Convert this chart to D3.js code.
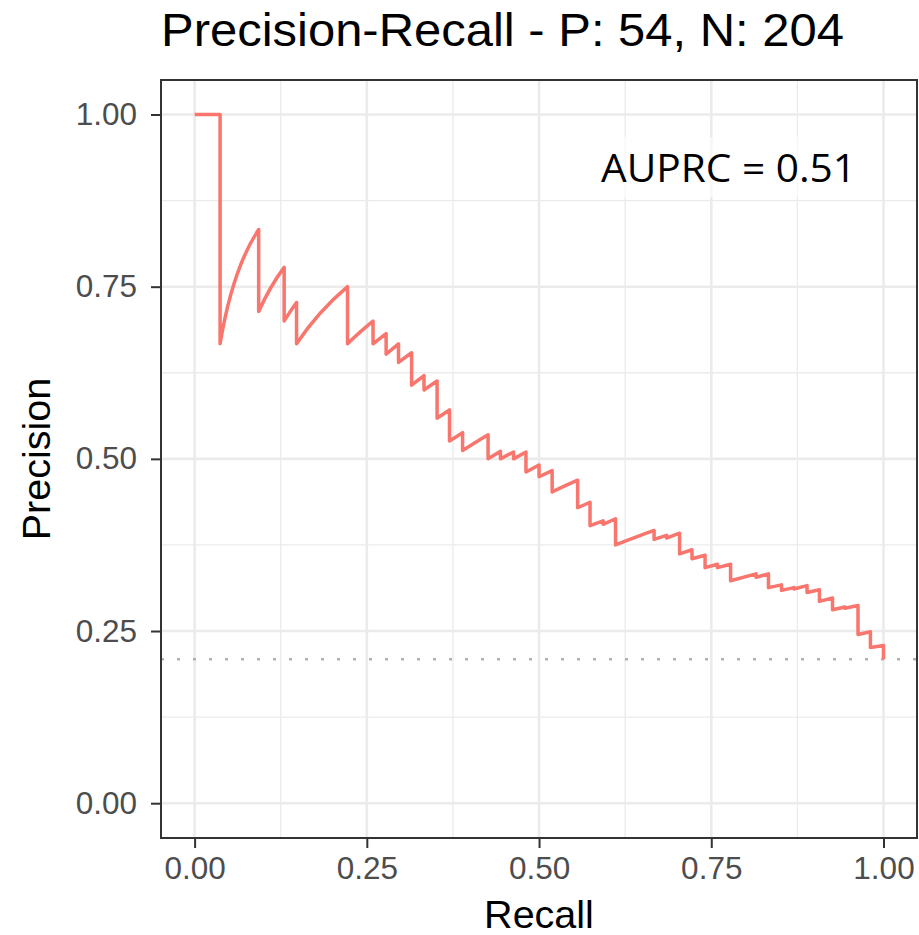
<!DOCTYPE html>
<html><head><meta charset="utf-8">
<script src="https://cdn.jsdelivr.net/npm/d3@7"></script>
<style>body{margin:0;background:#fff}</style>
</head><body>
<svg id="chart" width="919" height="935"></svg>
<script>
// ---- data ----
const recall = [0, 0.037, 0.037, 0.093, 0.093, 0.130, 0.130, 0.148, 0.148, 0.222,
  0.222, 0.259, 0.259, 0.278, 0.278, 0.296, 0.296, 0.315, 0.315, 0.333,
  0.333, 0.352, 0.352, 0.370, 0.370, 0.389, 0.389, 0.426, 0.426, 0.444,
  0.444, 0.463, 0.463, 0.481, 0.481, 0.500, 0.500, 0.519, 0.519, 0.556,
  0.556, 0.574, 0.574, 0.593, 0.593, 0.611, 0.611, 0.667, 0.667, 0.685,
  0.685, 0.704, 0.704, 0.722, 0.722, 0.741, 0.741, 0.759, 0.759, 0.778,
  0.778, 0.815, 0.815, 0.833, 0.833, 0.852, 0.852, 0.870, 0.870, 0.889,
  0.889, 0.907, 0.907, 0.926, 0.926, 0.944, 0.944, 0.963, 0.963, 0.981,
  0.981, 1.000, 1.000];
const precision = [1.000, 1.000, 0.667, 0.833, 0.714, 0.778, 0.700, 0.727, 0.667, 0.750,
  0.667, 0.700, 0.667, 0.682, 0.652, 0.667, 0.640, 0.654, 0.607, 0.621,
  0.600, 0.613, 0.559, 0.571, 0.526, 0.538, 0.512, 0.535, 0.500, 0.511,
  0.500, 0.510, 0.500, 0.510, 0.481, 0.491, 0.474, 0.483, 0.452, 0.469,
  0.429, 0.437, 0.403, 0.410, 0.405, 0.413, 0.375, 0.396, 0.383, 0.389,
  0.385, 0.392, 0.362, 0.368, 0.355, 0.360, 0.342, 0.347, 0.342, 0.347,
  0.323, 0.333, 0.328, 0.333, 0.313, 0.317, 0.309, 0.313, 0.311, 0.316,
  0.306, 0.310, 0.293, 0.298, 0.281, 0.285, 0.283, 0.287, 0.245, 0.249,
  0.226, 0.229, 0.209];
const baselineValue = [0.209];
const majorBreaks = [0, 0.25, 0.5, 0.75, 1];
const minorBreaks = [0.125, 0.375, 0.625, 0.875];
const tickLabels = ["0.00", "0.25", "0.50", "0.75", "1.00"];
const titleText = "Precision-Recall - P: 54, N: 204";
const xTitle = "Recall";
const yTitle = "Precision";
const annotationText = "AUPRC = 0.51";

// ---- layout ----
const panel = {left: 161, right: 917, top: 80, bottom: 838};
const x = d3.scaleLinear().domain([0, 1]).range([194.6, 883.5]);
const y = d3.scaleLinear().domain([0, 1]).range([803.2, 114.5]);
const svg = d3.select("#chart");
const sans = "'Liberation Sans', Arial, Helvetica, sans-serif";

// panel background
svg.append("rect").attr("x", panel.left).attr("y", panel.top)
  .attr("width", panel.right - panel.left).attr("height", panel.bottom - panel.top)
  .attr("fill", "#fff");

const grid = svg.append("g");
// minor grid
grid.selectAll(".vminor").data(minorBreaks).join("line").attr("class", "vminor")
  .attr("x1", d => x(d)).attr("x2", d => x(d)).attr("y1", panel.top).attr("y2", panel.bottom)
  .attr("stroke", "#ebebeb").attr("stroke-width", 1.3);
grid.selectAll(".hminor").data(minorBreaks).join("line").attr("class", "hminor")
  .attr("y1", d => y(d)).attr("y2", d => y(d)).attr("x1", panel.left).attr("x2", panel.right)
  .attr("stroke", "#ebebeb").attr("stroke-width", 1.3);
// major grid
grid.selectAll(".vmajor").data(majorBreaks).join("line").attr("class", "vmajor")
  .attr("x1", d => x(d)).attr("x2", d => x(d)).attr("y1", panel.top).attr("y2", panel.bottom)
  .attr("stroke", "#ebebeb").attr("stroke-width", 2.6);
grid.selectAll(".hmajor").data(majorBreaks).join("line").attr("class", "hmajor")
  .attr("y1", d => y(d)).attr("y2", d => y(d)).attr("x1", panel.left).attr("x2", panel.right)
  .attr("stroke", "#ebebeb").attr("stroke-width", 2.6);

// baseline (dotted)
svg.selectAll(".baseline").data(baselineValue).join("line").attr("class", "baseline")
  .attr("x1", panel.left).attr("x2", panel.right)
  .attr("y1", d => y(d)).attr("y2", d => y(d))
  .attr("stroke", "#b0b0b0").attr("stroke-width", 2.6)
  .attr("stroke-dasharray", "3,13");

// PR curve
const pts = recall.map((r, i) => [r, precision[i]]);
function prPath(points) {
  const p = d3.path();
  points.forEach((d, i) => {
    const X = x(d[0]), Y = y(d[1]);
    if (i === 0) { p.moveTo(X, Y); return; }
    const a = points[i - 1];
    if (d[0] > a[0] && d[1] > a[1] && a[0] > 0) {
      const s0 = a[1] * (1 - a[1]) / a[0], s1 = d[1] * (1 - d[1]) / d[0];
      if (Math.abs(s0 - s1) > 1e-9) {
        const rc = (d[1] - a[1] + s0 * a[0] - s1 * d[0]) / (s0 - s1);
        const pc = a[1] + s0 * (rc - a[0]);
        if (rc > a[0] && rc < d[0] && pc > a[1] && pc < d[1] + 0.05) {
          p.quadraticCurveTo(x(rc), y(pc), X, Y); return;
        }
      }
    }
    p.lineTo(X, Y);
  });
  return p.toString();
}
svg.append("path").datum(pts).attr("d", prPath)
  .attr("fill", "none").attr("stroke", "#F8766D").attr("stroke-width", 3.5)
  .attr("stroke-linejoin", "round").attr("stroke-linecap", "butt");

// panel border
svg.append("rect").attr("x", panel.left).attr("y", panel.top)
  .attr("width", panel.right - panel.left).attr("height", panel.bottom - panel.top)
  .attr("fill", "none").attr("stroke", "#333333").attr("stroke-width", 2);

// axes
const xAxis = svg.append("g").attr("transform", `translate(0,${panel.bottom})`)
  .call(d3.axisBottom(x).tickValues(majorBreaks).tickFormat((d, i) => tickLabels[i])
    .tickSize(10).tickPadding(9));
const yAxis = svg.append("g").attr("transform", `translate(${panel.left},0)`)
  .call(d3.axisLeft(y).tickValues(majorBreaks).tickFormat((d, i) => tickLabels[i])
    .tickSize(10).tickPadding(14));
[xAxis, yAxis].forEach(g => {
  g.select(".domain").remove();
  g.selectAll(".tick line").attr("stroke", "#333333").attr("stroke-width", 2);
  g.selectAll(".tick text").attr("fill", "#4d4d4d")
    .style("font-family", sans).style("font-size", "31.5px");
});

// title and axis titles
svg.append("text").attr("x", panel.left).attr("y", 46)
  .style("font-family", sans).style("font-size", "46.5px").attr("fill", "#000")
  .attr("textLength", 683).attr("lengthAdjust", "spacingAndGlyphs")
  .text(titleText);
svg.append("text").attr("x", (panel.left + panel.right) / 2).attr("y", 928)
  .attr("text-anchor", "middle")
  .style("font-family", sans).style("font-size", "39.5px").attr("fill", "#000")
  .text(xTitle);
svg.append("text").attr("transform", `translate(50,${(panel.top + panel.bottom) / 2}) rotate(-90)`)
  .attr("text-anchor", "middle")
  .style("font-family", sans).style("font-size", "39.5px").attr("fill", "#000")
  .text(yTitle);

// annotation
svg.append("rect").attr("x", 588).attr("y", 137).attr("width", 282).attr("height", 60)
  .attr("fill", "#fff").attr("opacity", 0.6);
svg.append("text").attr("x", 601).attr("y", 181.5)
  .style("font-family", "'Open Sans', 'Noto Sans', sans-serif").style("font-size", "37.5px")
  .attr("fill", "#000").attr("textLength", 255).attr("lengthAdjust", "spacingAndGlyphs")
  .text(annotationText);
</script>
</body></html>
